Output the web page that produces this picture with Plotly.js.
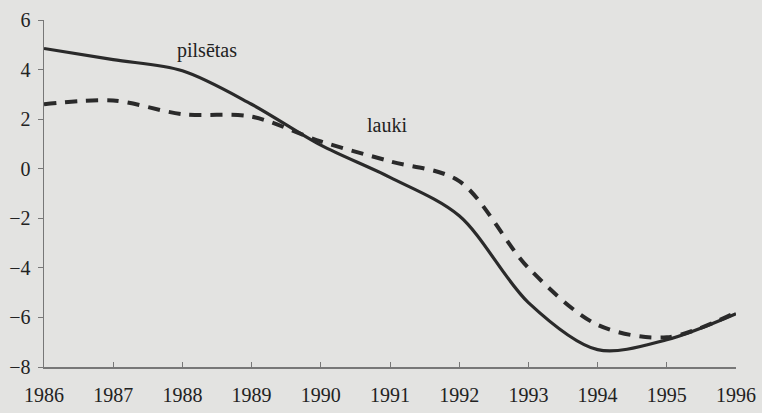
<!DOCTYPE html>
<html><head><meta charset="utf-8">
<script src="https://cdn.plot.ly/plotly-3.0.1.min.js"></script>
<style>html,body{margin:0;padding:0;background:#e3e3e1;}</style>
</head><body><div id="chart" style="width:762px;height:413px;"></div>
<script>
const years = [1986, 1987, 1988, 1989, 1990, 1991, 1992, 1993, 1994, 1995, 1996];
const pilsetas = [4.85, 4.4, 3.95, 2.6, 0.95, -0.35, -1.9, -5.4, -7.3, -6.9, -5.85];
const lauki = [2.6, 2.75, 2.2, 2.1, 1.1, 0.3, -0.5, -4.0, -6.3, -6.8, -5.8];
const yTicks = [-8, -6, -4, -2, 0, 2, 4, 6];
const font = {family: 'Times New Roman, Liberation Serif, serif', color: '#222', size: 20};
Plotly.newPlot('chart', [
  {x: years, y: pilsetas, mode: 'lines', line: {color: '#2a2a2a', width: 3.2, shape: 'spline', smoothing: 0.9}, name: 'pilsētas'},
  {x: years, y: lauki, mode: 'lines', line: {color: '#2a2a2a', width: 4, dash: '12px,9px', shape: 'spline', smoothing: 0.9}, name: 'lauki'}
], {
  width: 762, height: 413,
  margin: {l: 44, r: 26, t: 20, b: 46},
  paper_bgcolor: '#e3e3e1', plot_bgcolor: '#e3e3e1',
  showlegend: false,
  font: font,
  xaxis: {range: [1986, 1996], tickvals: years, ticks: 'inside', ticklen: 5, tickcolor: '#777', ticklabelstandoff: 9,
          showgrid: false, zeroline: false, showline: true, linecolor: '#777', linewidth: 1.5, tickfont: font},
  yaxis: {range: [-8, 6], tickvals: yTicks, ticks: 'outside', ticklen: 5, tickcolor: '#777', ticklabelstandoff: 3,
          showgrid: false, zeroline: false, showline: true, linecolor: '#777', linewidth: 1.5, tickfont: font},
  annotations: [
    {x: 1988.35, y: 4.75, text: 'pilsētas', showarrow: false, font: font},
    {x: 1990.95, y: 1.75, text: 'lauki', showarrow: false, font: font}
  ]
}, {displayModeBar: false, staticPlot: true});
</script></body></html>
